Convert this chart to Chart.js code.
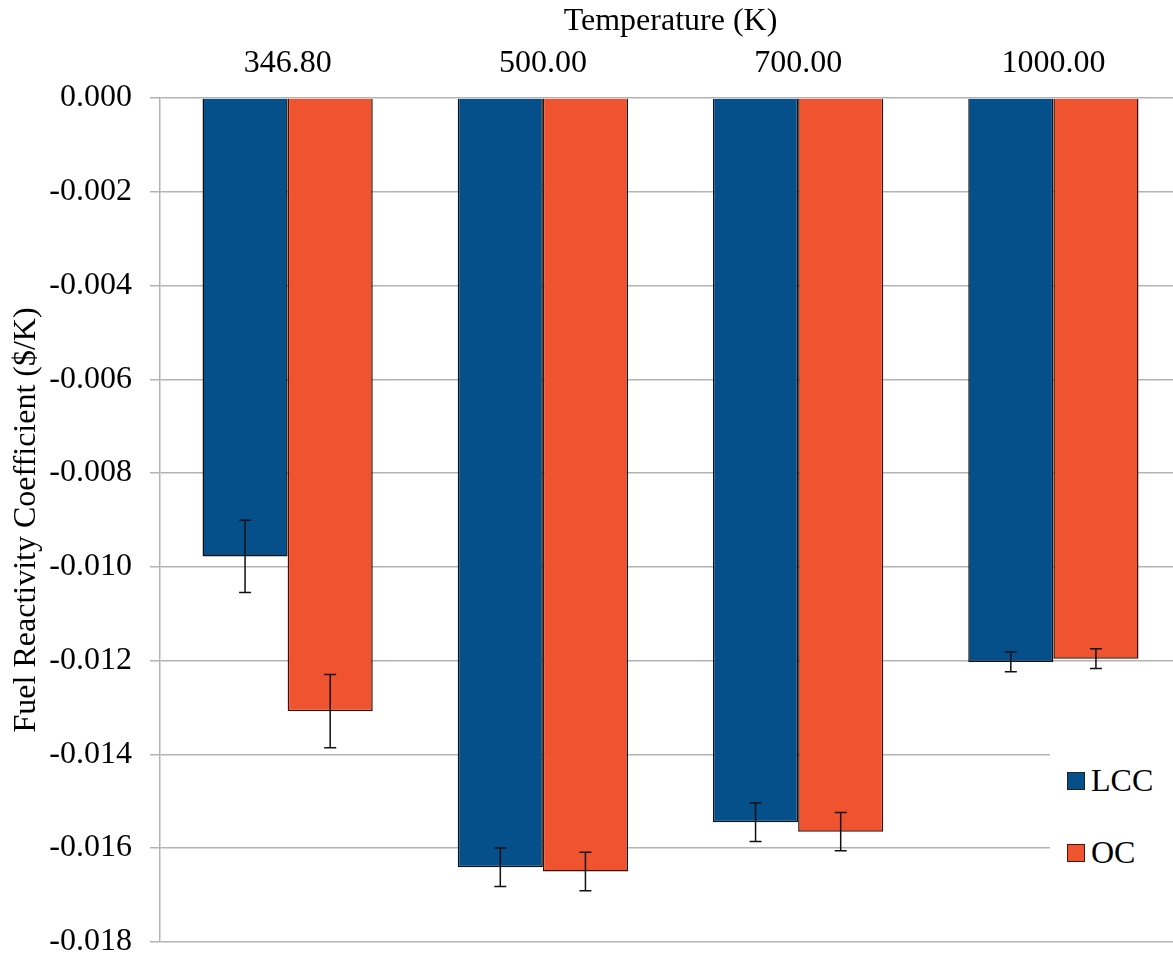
<!DOCTYPE html>
<html>
<head>
<meta charset="utf-8">
<script src="https://cdn.jsdelivr.net/npm/chart.js@4/dist/chart.umd.min.js"></script>
<style>
  html, body { margin: 0; padding: 0; background: #fff; overflow: hidden; }
  #wrap { position: relative; width: 1181px; height: 979px; }
  #legend {
    position: absolute; left: 1050px; top: 745px; width: 123px; height: 130px;
    background: #fff; font-family: "Liberation Serif", serif; font-size: 32px; color: #000;
  }
  .item { position: absolute; left: 17px; height: 36px; line-height: 36px; }
  .box { display: inline-block; width: 16px; height: 16px; border: 1px solid #222; vertical-align: middle; margin-right: 6px; position: relative; top: -3px; }
</style>
</head>
<body>
<div id="wrap">
  <canvas id="chart" width="1181" height="979"></canvas>
  <div id="legend">
    <div class="item" style="top:17px"><span class="box" style="background:#054f8a"></span>LCC</div>
    <div class="item" style="top:89px"><span class="box" style="background:#f0532f;border-color:#4a1608"></span>OC</div>
  </div>
</div>
<script>
// ==================== 数据 ====================
const temps = ['346.80', '500.00', '700.00', '1000.00'];
const lccValues = [-0.00978, -0.01641, -0.01545, -0.01203];
const ocValues = [-0.01308, -0.01650, -0.01565, -0.01196];
const lccErrors = [0.00077, 0.00041, 0.00041, 0.00021];
const ocErrors = [0.00078, 0.00041, 0.00041, 0.00021];
const yTicks = [0, -0.002, -0.004, -0.006, -0.008, -0.010, -0.012, -0.014, -0.016, -0.018];

const serif = '"Liberation Serif", "Times New Roman", serif';

/** 误差线插件 */
const errorBars = {
  id: 'errorBars',
  afterDatasetsDraw(chart) {
    const ctx = chart.ctx;
    const y = chart.scales.y;
    const errs = [lccErrors, ocErrors];
    ctx.save();
    ctx.strokeStyle = '#111';
    ctx.lineWidth = 1.5;
    chart.data.datasets.forEach((ds, di) => {
      const meta = chart.getDatasetMeta(di);
      meta.data.forEach((bar, i) => {
        const v = ds.data[i];
        const e = errs[di][i];
        const top = y.getPixelForValue(v + e);
        const bot = y.getPixelForValue(v - e);
        const x = bar.x;
        ctx.beginPath();
        ctx.moveTo(x, top); ctx.lineTo(x, bot);
        ctx.moveTo(x - 6, top); ctx.lineTo(x + 6, top);
        ctx.moveTo(x - 6, bot); ctx.lineTo(x + 6, bot);
        ctx.stroke();
      });
    });
    ctx.restore();
  }
};

new Chart(document.getElementById('chart'), {
  type: 'bar',
  data: {
    labels: temps,
    datasets: [
      { label: 'LCC', data: lccValues, backgroundColor: '#054f8a', borderColor: '#111', borderWidth: 1.5 },
      { label: 'OC', data: ocValues, backgroundColor: '#f0532f', borderColor: '#3a1006', borderWidth: 1.5 }
    ]
  },
  options: {
    responsive: false,
    animation: false,
    categoryPercentage: 0.667,
    barPercentage: 1,
    layout: { padding: { left: 3, top: 0, right: 0, bottom: 3 } },
    plugins: { legend: { display: false }, tooltip: { enabled: false } },
    scales: {
      x: {
        position: 'top',
        grid: { display: false },
        border: { display: false },
        afterFit(scale) { scale.height = 98; },
        ticks: { color: '#000', padding: 7, font: { family: serif, size: 32 } },
        title: { display: true, text: 'Temperature (K)', color: '#000', padding: { top: 2, bottom: 4 }, font: { family: serif, size: 32 } }
      },
      y: {
        min: -0.018,
        max: 0,
        afterBuildTicks(axis) { axis.ticks = yTicks.map(v => ({ value: v })); },
        afterFit(scale) { scale.width = 157; },
        grid: { color: '#b3b3b3', lineWidth: 1.5, tickLength: 10 },
        border: { color: '#b3b3b3', width: 1.5 },
        ticks: { color: '#000', padding: 18, font: { family: serif, size: 32 }, callback: v => Number(v).toFixed(3) },
        title: { display: true, text: 'Fuel Reactivity Coefficient ($/K)', color: '#000', padding: { top: 4, bottom: 4 }, font: { family: serif, size: 32 } }
      }
    }
  },
  plugins: [errorBars]
});
</script>
</body>
</html>
